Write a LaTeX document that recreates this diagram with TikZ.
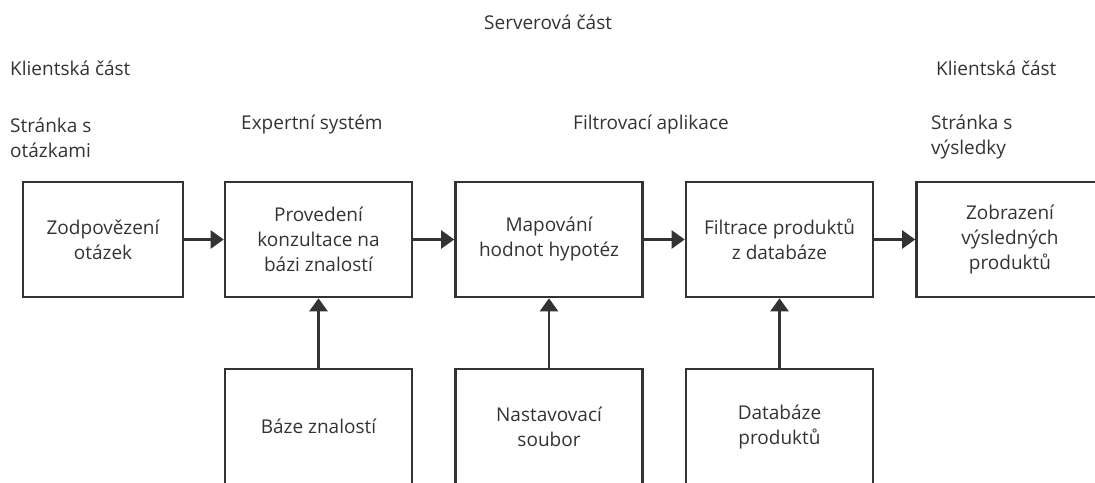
\documentclass[tikz,border=0pt]{standalone}
\usepackage{fontspec}
\setmainfont{Open Sans}
\usetikzlibrary{arrows.meta}
\definecolor{ink}{HTML}{333333}
\begin{document}
\begin{tikzpicture}[x=1pt, y=-1pt, font=\fontsize{19}{25}\selectfont, line join=miter, >={Triangle[length=13pt,width=18pt]},
    box/.style={draw=ink, line width=2.6pt, minimum height=115pt, minimum width=187pt, align=center, text=ink, inner sep=0pt},
    lbl/.style={anchor=west, align=left, text=ink, inner sep=0pt},
    conn/.style={->, draw=ink, line width=2.4pt}]
    \useasboundingbox (0,0) rectangle (1095,482);
    \clip (0,0) rectangle (1095,482);
    % labels
    \node[lbl] (srv) at (484,22) {Serverová část};
    \node[lbl] (kl1) at (10,68) {Klientská část};
    \node[lbl] (kl2) at (936,68) {Klientská část};
    \node[lbl] (st1) at (10,137.5) {Stránka s\\otázkami};
    \node[lbl] (exp) at (241,125) {Expertní systém};
    \node[lbl] (flt) at (573,125) {Filtrovací aplikace};
    \node[lbl] (st2) at (931,137.5) {Stránka s\\výsledky};
    % top row
    \node[box, minimum width=160pt] (b1) at (103,239.5) {Zodpovězení\\otázek};
    \node[box] (b2) at (318.5,239.5) {Provedení\\konzultace na\\bázi znalostí};
    \node[box] (b3) at (549,239.5) {Mapování\\hodnot hypotéz};
    \node[box] (b4) at (779.5,239.5) {Filtrace produktů\\z databáze};
    \node[box] (b5) at (1010,239.5) {Zobrazení\\výsledných\\produktů};
    % bottom row
    \node[box] (k2) at (318.5,426.5) {Báze znalostí};
    \node[box] (k3) at (549,426.5) {Nastavovací\\soubor};
    \node[box] (k4) at (779.5,426.5) {Databáze\\produktů};
    \foreach \a/\b in {b1/b2,b2/b3,b3/b4,b4/b5}
    \draw[conn] (\a) -- (\b);
    \foreach \n in {2,3,4}
    \draw[conn] (k\n) -- (b\n);
\end{tikzpicture}
\end{document}
